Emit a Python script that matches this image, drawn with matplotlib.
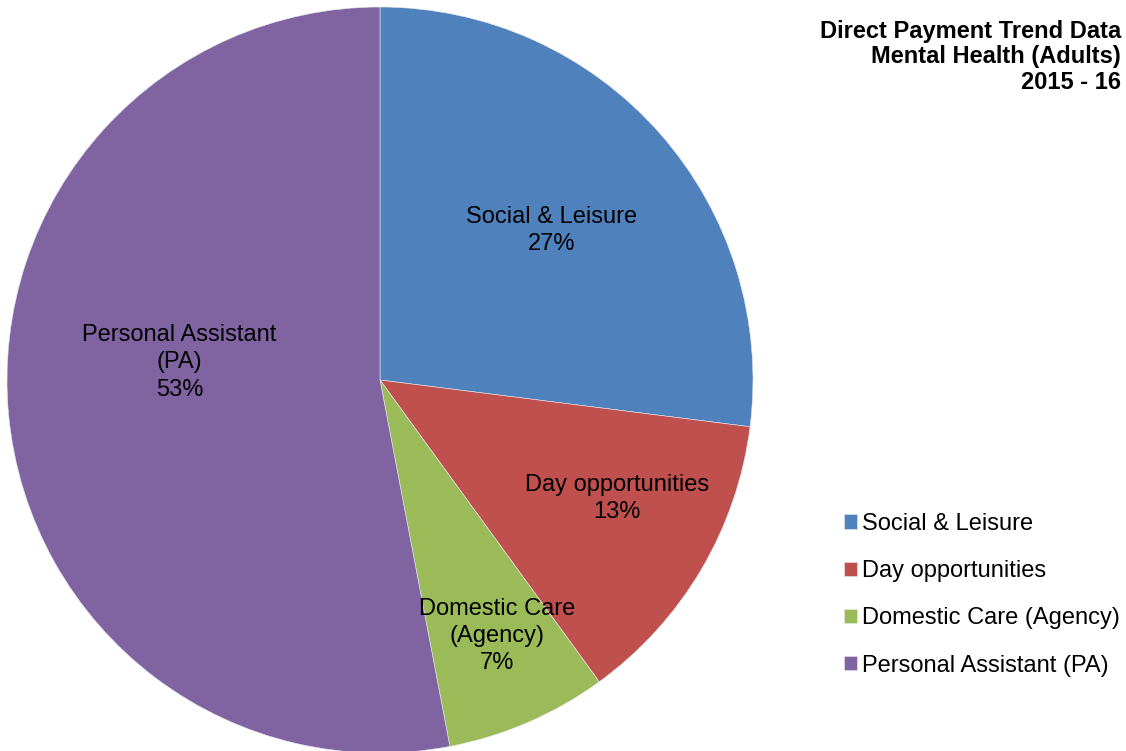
import matplotlib.pyplot as plt
import numpy as np

plt.rcParams['font.family'] = ['Liberation Sans', 'DejaVu Sans']

categories = ['Social & Leisure', 'Day opportunities', 'Domestic Care (Agency)', 'Personal Assistant (PA)']
slice_labels = ['Social & Leisure', 'Day opportunities', 'Domestic Care\n(Agency)', 'Personal Assistant\n(PA)']
shares = [27, 13, 7, 53]
colors = ['#4F81BD', '#C0504D', '#9BBB59', '#8064A2']
# label placement as (radius fraction, angle in degrees) from pie centre
label_pos = [(0.61, 41.0), (0.71, -26.5), (0.755, -65.5), (0.54, 175.0)]

fig = plt.figure(figsize=(11.26, 7.51), dpi=100)
ax = fig.add_axes([7 / 1126, -2 / 751, 746 / 1126, 746 / 751])

wedges, _ = ax.pie(shares, colors=colors, startangle=90, counterclock=False,
                   radius=1, wedgeprops=dict(edgecolor='#e8e8f0', linewidth=0.4))
ax.set_xlim(-1, 1)
ax.set_ylim(-1, 1)
ax.set_aspect('equal')
ax.axis('off')

for lab, val, (r, ang) in zip(slice_labels, shares, label_pos):
    t = np.deg2rad(ang)
    ax.text(r * np.cos(t), r * np.sin(t), f"{lab}\n{val}%", ha='center', va='center',
            fontsize=17, linespacing=1.3, color='black')

fig.text(0.9955, 0.974, 'Direct Payment Trend Data\nMental Health (Adults)\n2015 - 16',
         ha='right', va='top', fontsize=17, fontweight='bold', linespacing=1.15)

fig.legend(wedges, categories, loc='center left', bbox_to_anchor=(0.741, 0.208),
           frameon=False, fontsize=17, handlelength=0.55, handleheight=0.55,
           handletextpad=0.2, labelspacing=1.07, borderaxespad=0)

fig.savefig('out.png', dpi=100)
